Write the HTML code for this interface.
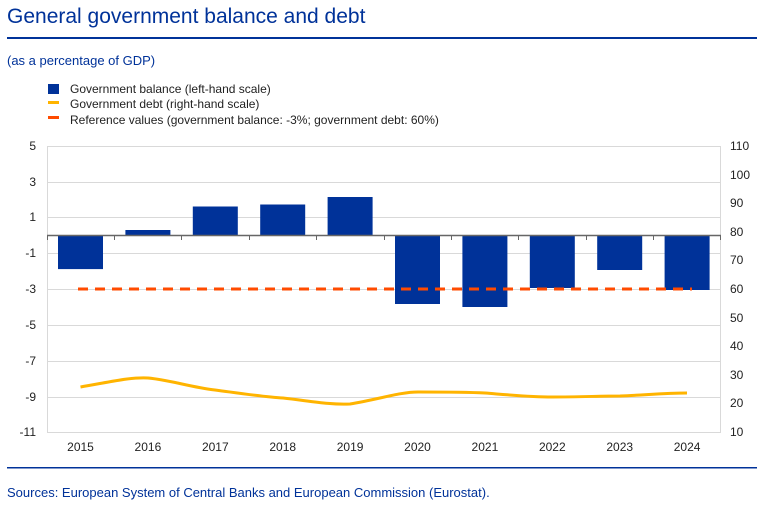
<!DOCTYPE html>
<html><head><meta charset="utf-8"><style>
body{margin:0;background:#fff;font-family:"Liberation Sans",sans-serif;}
</style></head><body>
<svg width="770" height="510" xmlns="http://www.w3.org/2000/svg" font-family="Liberation Sans, sans-serif">
<text x="7" y="23" font-size="21" fill="#003299">General government balance and debt</text>
<rect x="7" y="37" width="750" height="2" fill="#003299"/>
<text x="7" y="65" font-size="13" fill="#003299">(as a percentage of GDP)</text>
<rect x="48" y="84" width="11" height="10" fill="#003299"/>
<text x="70" y="93" font-size="12" fill="#222">Government balance (left-hand scale)</text>
<rect x="48" y="101" width="11" height="3" fill="#FFB400"/>
<text x="70" y="108" font-size="12" fill="#222">Government debt (right-hand scale)</text>
<rect x="48" y="116" width="11" height="3" fill="#FF4B00"/>
<text x="70" y="124" font-size="12" fill="#222">Reference values (government balance: -3%; government debt: 60%)</text>
<g stroke="#d9d9d9" stroke-width="1">
<line x1="47" y1="146.5" x2="721" y2="146.5"/>
<line x1="47" y1="182.5" x2="721" y2="182.5"/>
<line x1="47" y1="217.5" x2="721" y2="217.5"/>
<line x1="47" y1="253.5" x2="721" y2="253.5"/>
<line x1="47" y1="289.5" x2="721" y2="289.5"/>
<line x1="47" y1="325.5" x2="721" y2="325.5"/>
<line x1="47" y1="361.5" x2="721" y2="361.5"/>
<line x1="47" y1="397.5" x2="721" y2="397.5"/>
<line x1="47" y1="432.5" x2="721" y2="432.5"/>
<line x1="47.5" y1="146" x2="47.5" y2="432"/>
<line x1="720.5" y1="146" x2="720.5" y2="432"/>
</g>
<g font-size="12" fill="#222" text-anchor="end">
<text x="36" y="150">5</text><text x="36" y="186">3</text><text x="36" y="221">1</text>
<text x="36" y="257">-1</text><text x="36" y="293">-3</text><text x="36" y="329">-5</text>
<text x="36" y="365">-7</text><text x="36" y="401">-9</text><text x="36" y="436">-11</text>
</g>
<g font-size="12" fill="#222" text-anchor="start">
<text x="730" y="150">110</text><text x="730" y="179">100</text><text x="730" y="207">90</text>
<text x="730" y="236">80</text><text x="730" y="264">70</text><text x="730" y="293">60</text>
<text x="730" y="322">50</text><text x="730" y="350">40</text><text x="730" y="379">30</text>
<text x="730" y="407">20</text><text x="730" y="436">10</text>
</g>
<g fill="#003299">
<rect x="58" y="235.5" width="45" height="33.6"/>
<rect x="125.4" y="230" width="45" height="5.5"/>
<rect x="192.8" y="206.5" width="45" height="29"/>
<rect x="260.2" y="204.5" width="45" height="31"/>
<rect x="327.6" y="197" width="45" height="38.5"/>
<rect x="395" y="235.5" width="45" height="68.5"/>
<rect x="462.4" y="235.5" width="45" height="71.5"/>
<rect x="529.8" y="235.5" width="45" height="52.5"/>
<rect x="597.2" y="235.5" width="45" height="34.5"/>
<rect x="664.6" y="235.5" width="45" height="54.5"/>
</g>
<line x1="47" y1="235.5" x2="721" y2="235.5" stroke="#666" stroke-width="1.5"/>
<g stroke="#666" stroke-width="1">
<line x1="47.5" y1="235" x2="47.5" y2="240"/><line x1="114.5" y1="235" x2="114.5" y2="240"/>
<line x1="181.5" y1="235" x2="181.5" y2="240"/><line x1="249.5" y1="235" x2="249.5" y2="240"/>
<line x1="316.5" y1="235" x2="316.5" y2="240"/><line x1="384.5" y1="235" x2="384.5" y2="240"/>
<line x1="451.5" y1="235" x2="451.5" y2="240"/><line x1="518.5" y1="235" x2="518.5" y2="240"/>
<line x1="586.5" y1="235" x2="586.5" y2="240"/><line x1="653.5" y1="235" x2="653.5" y2="240"/>
<line x1="720.5" y1="235" x2="720.5" y2="240"/>
</g>
<line x1="78" y1="289" x2="692" y2="289" stroke="#FF4B00" stroke-width="3" stroke-dasharray="10,7"/>
<path d="M80.5,387 C110,382 130,377 148,378 C170,380 190,387 215,390 C245,394 265,397 283,398 C310,401 330,405 350,404 C380,399 400,392 418,392 C445,392 465,392 485,393 C510,395 530,397 552,397 C580,397 600,396 620,396 C645,395 665,393 687,393" fill="none" stroke="#FFB400" stroke-width="3"/>
<g font-size="12" fill="#222" text-anchor="middle">
<text x="80.5" y="451">2015</text><text x="147.9" y="451">2016</text><text x="215.3" y="451">2017</text>
<text x="282.7" y="451">2018</text><text x="350.1" y="451">2019</text><text x="417.5" y="451">2020</text>
<text x="484.9" y="451">2021</text><text x="552.3" y="451">2022</text><text x="619.7" y="451">2023</text>
<text x="687.1" y="451">2024</text>
</g>
<rect x="7" y="467" width="750" height="1.5" fill="#003299"/>
<text x="7" y="497" font-size="13" fill="#003299">Sources: European System of Central Banks and European Commission (Eurostat).</text>
</svg>
</body></html>
